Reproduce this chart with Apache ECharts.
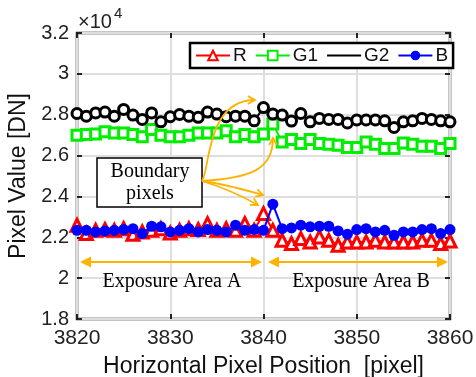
<!DOCTYPE html>
<html><head><meta charset="utf-8">
<script src="https://cdn.jsdelivr.net/npm/echarts@6/dist/echarts.min.js"></script>
<style>html,body{margin:0;padding:0;background:#fff}#c{width:476px;height:377px}</style>
</head><body><div id="c"></div>
<script>
const positions = [3820,3821,3822,3823,3824,3825,3826,3827,3828,3829,3830,3831,3832,3833,3834,3835,3836,3837,3838,3839,3840,3841,3842,3843,3844,3845,3846,3847,3848,3849,3850,3851,3852,3853,3854,3855,3856,3857,3858,3859,3860];
const R  = [22590,22180,22340,22380,22340,22420,22150,22260,22340,22420,22210,22340,22420,22380,22670,22340,22420,22340,22670,22340,23160,22340,21850,21690,21940,21770,22020,21850,21610,21770,21770,21770,21850,21770,21770,21770,21770,21850,21850,21690,21820];
const G1 = [27000,27030,27050,27160,27110,27110,27030,26920,27280,27000,26920,26920,27000,27110,27110,27110,27210,26920,27030,26920,27050,27540,26670,26790,26590,26790,26590,26560,26510,26400,26400,26670,26560,26350,26350,26620,26560,26460,26460,26350,26590];
const G2 = [28060,27930,28090,28130,27930,28260,27980,27770,28090,27650,27900,28010,27930,27870,28130,28030,27900,27930,27930,27700,28350,28030,27980,27690,28060,27650,27820,27770,27770,27600,27740,27740,27740,27700,27380,27650,27700,27820,27770,27700,27650];
const B  = [22340,22340,22260,22310,22340,22380,22420,22180,22540,22510,22260,22340,22420,22260,22380,22340,22260,22590,22340,22380,22340,23620,22420,22460,22590,22510,22540,22540,22310,22150,22380,22420,22260,22340,22100,22260,22260,22380,22420,22180,22380];
const seriesNames = ['R','G1','G2','B'];
const xMin = 3820, xMax = 3860, xStep = 10;
const yMin = 18000, yMax = 32000, yStep = 2000, yScale = 10000;

const chart = echarts.init(document.getElementById('c'));
const FONT = 'Liberation Sans';
const ORANGE = '#FFB300';
const pair = arr => positions.map((p,i)=>[p,arr[i]]);

function mkSeries(name, data, color, symbol, size, filled, z){
  return {
    name, type:'line', data: pair(data), symbol, symbolSize:size, z,
    showSymbol:true, animation:false,
    lineStyle:{color, width:2},
    itemStyle:{color: filled?color:'#fff', borderColor:color, borderWidth: filled?0:3},
    emphasis:{disabled:true}
  };
}
const baseAxisX = {type:'value', min:xMin, max:xMax, interval:xStep};
const baseAxisY = {type:'value', min:yMin, max:yMax, interval:yStep};

chart.setOption({
  animation:false,
  grid:{left:77, right:26, top:33, bottom:58, outerBoundsMode:'none', containLabel:false, show:true, borderColor:'#1a1a1a', borderWidth:2.5, backgroundColor:'transparent'},
  xAxis:[
    Object.assign({}, baseAxisX, {
      position:'bottom',
      name:'Horizontal Pixel Position  [pixel]', nameLocation:'middle', nameGap:36,
      nameTextStyle:{fontFamily:FONT, fontSize:23, color:'#111'},
      axisLine:{show:false},
      axisTick:{show:true, inside:true, length:5, lineStyle:{color:'#222', width:2}},
      axisLabel:{fontFamily:FONT, fontSize:21, color:'#222', margin:9, formatter:v=>String(v)},
      splitLine:{show:true, lineStyle:{color:'#dedede', width:2}}
    }),
    Object.assign({}, baseAxisX, {
      position:'top', axisLine:{show:false}, axisLabel:{show:false}, splitLine:{show:false},
      axisTick:{show:true, inside:true, length:5, lineStyle:{color:'#222', width:2}}
    })
  ],
  yAxis:[
    Object.assign({}, baseAxisY, {
      position:'left',
      name:'Pixel Value [DN]', nameLocation:'middle', nameGap:33, nameRotate:90,
      nameTextStyle:{fontFamily:FONT, fontSize:23, color:'#111'},
      axisLine:{show:false},
      axisTick:{show:true, inside:true, length:5, lineStyle:{color:'#222', width:2}},
      axisLabel:{fontFamily:FONT, fontSize:20, color:'#222', margin:8, formatter:v=>String(v/yScale)},
      splitLine:{show:true, lineStyle:{color:'#dedede', width:2}}
    }),
    Object.assign({}, baseAxisY, {
      position:'right', axisLine:{show:false}, axisLabel:{show:false}, splitLine:{show:false},
      axisTick:{show:true, inside:true, length:5, lineStyle:{color:'#222', width:2}}
    })
  ],
  legend:{
    left:190, top:43, orient:'horizontal',
    backgroundColor:'#fff', borderColor:'#000', borderWidth:2.5, borderRadius:0,
    padding:[3,5], itemGap:8, itemWidth:34, itemHeight:12,
    textStyle:{fontFamily:FONT, fontSize:19, color:'#111', padding:[0,0,0,-2]},
    data:[{name:'R'},{name:'G1'},{name:'G2', itemStyle:{opacity:0}},{name:'B'}],
    selectedMode:false
  },
  series:[
    mkSeries('R', R, '#ff0000', 'triangle', 12, false, 2),
    mkSeries('G1', G1, '#00ee00', 'rect', 10, false, 3),
    mkSeries('G2', G2, '#000000', 'circle', 10, false, 4),
    mkSeries('B', B, '#0000ff', 'circle', 11, true, 5)
  ]
});

// annotations
function chevron(tip, from, len){
  const dx = tip[0]-from[0], dy = tip[1]-from[1];
  const d = Math.hypot(dx,dy); const ux=dx/d, uy=dy/d;
  const a = 0.5;
  const p1=[tip[0]-len*(ux*Math.cos(a)-uy*Math.sin(a)), tip[1]-len*(uy*Math.cos(a)+ux*Math.sin(a))];
  const p2=[tip[0]-len*(ux*Math.cos(-a)-uy*Math.sin(-a)), tip[1]-len*(uy*Math.cos(-a)+ux*Math.sin(-a))];
  return {type:'polyline', z:100, shape:{points:[p1,tip,p2]}, style:{stroke:ORANGE, lineWidth:1.8, fill:null}};
}
function solidHead(tip, dir, len, w){
  const ux=dir[0], uy=dir[1];
  const bx=tip[0]-ux*len, by=tip[1]-uy*len;
  return {type:'polygon', z:100, shape:{points:[tip,[bx-uy*w, by+ux*w],[bx+uy*w, by-ux*w]]}, style:{fill:ORANGE}};
}
function curve(p0,c1,c2,p3){
  return {type:'bezierCurve', z:100, shape:{x1:p0[0],y1:p0[1],cpx1:c1[0],cpy1:c1[1],cpx2:c2[0],cpy2:c2[1],x2:p3[0],y2:p3[1]}, style:{stroke:ORANGE, lineWidth:1.8, fill:null}};
}
const S=[202,181];
const arrowY = 262;
const g = [
  {type:'text', z:100, left:78, top:12, style:{text:'×10', font:'20px '+FONT, fill:'#222'}},
  {type:'text', z:100, left:114, top:6, style:{text:'4', font:'15px '+FONT, fill:'#222'}},
  {type:'rect', z:99, shape:{x:97, y:158, width:105, height:49}, style:{fill:'#fff', stroke:'#000', lineWidth:1.5}},
  {type:'text', z:100, style:{text:'Boundary\npixels', x:150, y:183, align:'center', verticalAlign:'middle', font:'20px Liberation Serif', fill:'#000', lineHeight:22}},
  curve(S,[210,170],[206,100],[255,100]), chevron([255,100],[245,100],8),
  curve(S,[250,178],[273,170],[273,138]), chevron([273,138],[273,148],8),
  curve(S,[225,184],[245,190],[263,195]), chevron([263,195],[253,192],8),
  curve(S,[225,188],[242,196],[258,205]), chevron([258,205],[249,200],8),
  {type:'line', z:100, shape:{x1:88,y1:arrowY,x2:254,y2:arrowY}, style:{stroke:ORANGE, lineWidth:2}},
  solidHead([80,arrowY],[-1,0],11,5.5), solidHead([262,arrowY],[1,0],11,5.5),
  {type:'line', z:100, shape:{x1:276,y1:arrowY,x2:440,y2:arrowY}, style:{stroke:ORANGE, lineWidth:2}},
  solidHead([268,arrowY],[-1,0],11,5.5), solidHead([448,arrowY],[1,0],11,5.5),
  {type:'text', z:100, style:{text:'Exposure Area A', x:172, y:282, align:'center', verticalAlign:'middle', font:'20px Liberation Serif', fill:'#000'}},
  {type:'text', z:100, style:{text:'Exposure Area B', x:361, y:282, align:'center', verticalAlign:'middle', font:'20px Liberation Serif', fill:'#000'}}
];
chart.setOption({graphic:{elements:g}});
</script></body></html>
